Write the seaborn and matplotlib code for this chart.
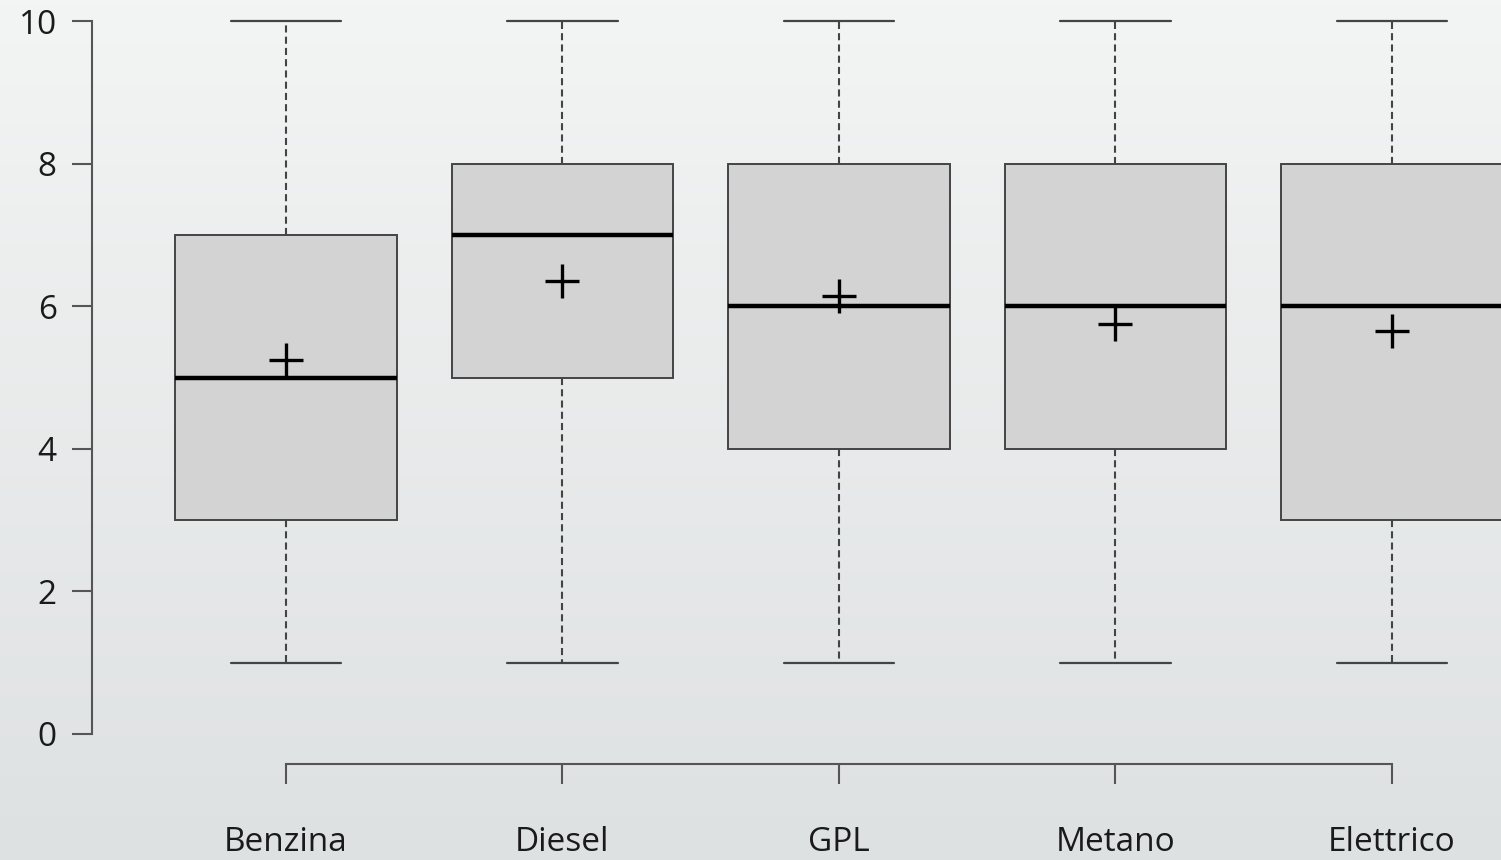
import numpy as np
import pandas as pd
import matplotlib
matplotlib.use("Agg")
import matplotlib.pyplot as plt
import seaborn as sns

# Fuel types and their score summaries (whisker low, Q1, median, Q3, whisker high)
fuels = ["Benzina", "Diesel", "GPL", "Metano", "Elettrico"]
low = [1, 1, 1, 1, 1]
q1 = [3, 5, 4, 4, 3]
median = [5, 7, 6, 6, 6]
q3 = [7, 8, 8, 8, 8]
high = [10, 10, 10, 10, 10]
means = [5.25, 6.35, 6.15, 5.75, 5.65]
yticks = [0, 2, 4, 6, 8, 10]

sns.set_theme(style="ticks")
plt.rcParams["font.family"] = ["Open Sans", "DejaVu Sans"]

# Five-number summaries in long form: the quartiles of these five values are the box edges
rows = []
for f, a, b, c, d, e in zip(fuels, low, q1, median, q3, high):
    for v in (a, b, c, d, e):
        rows.append({"fuel": f, "score": v})
df = pd.DataFrame(rows)
df_mean = pd.DataFrame({"fuel": fuels, "mean": means})

W, H = 1501, 860
fig = plt.figure(figsize=(W / 100, H / 100), dpi=100)

# soft vertical gradient backdrop
bg = fig.add_axes([0, 0, 1, 1], zorder=-10)
grad = np.linspace(0, 1, 256)[:, None]
top = np.array([243, 244, 244]) / 255
bot = np.array([222, 225, 226]) / 255
img = top[None, None, :] * (1 - grad[..., None]) + bot[None, None, :] * grad[..., None]
bg.imshow(img, aspect="auto", extent=[0, 1, 0, 1], origin="upper")
bg.set_axis_off()

left_px, bottom_px = 92, 734
ax = fig.add_axes([left_px / W, (H - bottom_px) / H, 1 - left_px / W, bottom_px / H])
ax.set_facecolor("none")

edge = "#444444"
sns.boxplot(
    data=df, x="fuel", y="score", order=fuels, ax=ax,
    whis=(0, 100), width=0.8, color="#d3d3d3", saturation=1,
    linecolor=edge, linewidth=1.4,
    medianprops=dict(color="black", linewidth=3.2),
    whiskerprops=dict(color=edge, linewidth=1.5, linestyle=(0, (3.4, 2.0))),
    capprops=dict(color=edge, linewidth=1.6),
)

sns.pointplot(
    data=df_mean, x="fuel", y="mean", order=fuels, ax=ax,
    estimator="mean", errorbar=None, color="black",
    markers="+", linestyles="none", markersize=25, markeredgewidth=2.4,
)

ax.set_xlim(-0.702, 4.395)
ax.set_ylim(0, 10.295)
ax.set_yticks(yticks)
ax.set_yticklabels([str(t) for t in yticks])
ax.set_xlabel("")
ax.set_ylabel("")

for s in ("top", "right"):
    ax.spines[s].set_visible(False)
ax.spines["left"].set_bounds(0, 10)
ax.spines["bottom"].set_bounds(0, 4)
ax.spines["bottom"].set_position(("outward", 21.5))
for s in ("left", "bottom"):
    ax.spines[s].set_color("#555555")
    ax.spines[s].set_linewidth(1.5)

ax.tick_params(axis="y", length=14.4, width=1.5, color="#555555", pad=11,
               labelsize=24, labelcolor="#1a1a1a")
ax.tick_params(axis="x", length=14.4, width=1.5, color="#555555", pad=30,
               labelsize=24, labelcolor="#1a1a1a")

fig.savefig("out.png", dpi=100)
